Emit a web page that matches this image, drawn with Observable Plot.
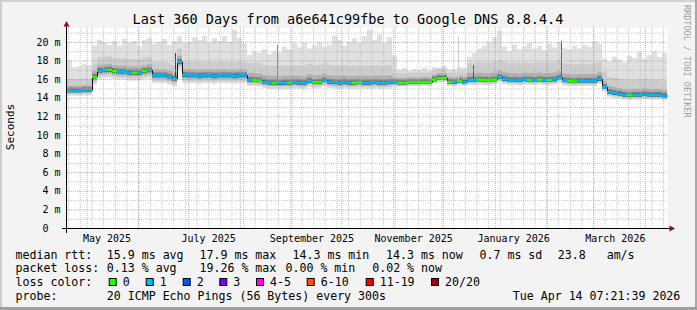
<!DOCTYPE html>
<html>
<head>
<meta charset="utf-8">
<script src="https://cdn.jsdelivr.net/npm/d3@7"></script>
<script src="https://cdn.jsdelivr.net/npm/@observablehq/plot@0.6"></script>
<style>
  html, body { margin: 0; padding: 0; background: #f3f3f3; }
  #chart { width: 697px; height: 310px; }
  svg { display: block; }
</style>
</head>
<body>
<div id="chart"></div>
<script>
// ---------------- data ----------------
const startTime = Date.UTC(2025, 3, 19, 7, 21, 39);
const endTime = Date.UTC(2026, 3, 14, 7, 21, 39);
const bucketDays = 3;

// median RTT per 3-day bucket (ms)
const median = [
  14.8,14.8,14.8,14.85,14.85,16.3,16.95,17.0,17.05,16.9,
  16.85,16.85,16.75,16.75,16.75,16.9,17.0,16.45,16.45,16.45,
  16.3,16.1,17.9,16.5,16.45,16.45,16.4,16.45,16.45,16.4,
  16.45,16.45,16.45,16.4,16.45,16.45,15.95,15.95,15.9,15.75,
  15.65,15.65,15.6,15.65,15.65,15.7,15.65,15.65,15.85,15.7,
  15.75,15.9,15.75,15.7,15.65,15.7,15.65,15.65,15.7,15.65,
  15.65,15.7,15.65,15.65,15.7,15.7,15.65,15.65,15.7,15.7,
  15.7,15.75,15.7,16.0,16.15,16.15,15.75,15.7,15.85,15.75,
  15.95,15.95,16.0,15.95,15.95,16.0,16.25,16.05,15.95,15.95,
  15.9,16.0,15.95,15.95,16.0,15.95,15.95,16.0,16.2,15.9,
  15.85,15.8,15.85,15.85,15.85,15.85,16.05,15.2,14.65,14.55,
  14.45,14.35,14.3,14.35,14.35,14.4,14.35,14.35,14.35,14.25
];
// lost pings per bucket (0 = green, 1 = light blue)
const loss = [
  1,1,1,1,1,0,1,1,0,0,
  1,1,1,0,1,0,1,1,1,1,
  1,1,1,1,1,1,1,1,1,1,
  1,1,1,1,1,1,1,0,0,1,
  1,0,1,1,0,1,1,1,1,0,
  0,1,1,1,1,1,1,0,0,1,
  1,1,1,1,1,1,0,0,0,0,
  0,0,0,0,0,0,0,1,0,1,
  1,1,0,0,0,0,1,1,1,1,
  1,1,0,1,0,1,0,1,1,1,
  0,0,1,1,1,1,1,1,1,1,
  1,1,0,1,1,1,1,1,1,1
];
// slowest ping per bucket (ms) - top of the smoke
const smokeMax = [
  18.0,17.3,17.4,17.6,17.5,
  19.6,20.2,20.0,19.7,20.1,19.6,20.3,
  19.9,20.1,19.5,20.2,20.4,19.8,20.0,
  20.3,19.7,20.1,20.6,19.9,20.0,20.5,
  20.2,20.7,19.9,20.4,20.1,20.6,20.0,21.3,20.4,19.8,
  18.6,19.0,18.8,19.2,18.7,19.0,18.9,
  19.5,19.2,19.8,19.4,19.9,19.3,19.6,20.0,19.5,19.7,20.7,20.2,19.6,20.0,
  20.4,19.9,20.6,21.3,20.2,20.8,19.9,20.5,18.5,
  17.0,17.2,16.9,17.1,17.0,17.2,16.9,17.3,
  17.2,17.4,17.0,17.1,17.3,17.2,
  18.4,18.8,19.3,19.6,20.0,20.5,21.2,
  19.5,19.0,19.7,19.2,19.5,19.9,19.3,19.6,19.1,19.8,19.4,
  20.0,19.4,19.2,19.6,19.3,19.7,19.5,20.1,19.8,
  18.2,17.9,18.4,18.1,17.8,18.5,18.3,18.9,18.2,18.6,19.0,18.4,18.8
];
// smoke spread around the median, per regime (first bucket of each regime)
const regimeStart = [0, 5, 36, 65, 80, 107];
const spreadBelow = [0.6, 0.9, 0.7, 0.5, 0.6, 0.55];
const spreadP75   = [0.5, 0.6, 0.7, 0.5, 0.7, 0.6];
const spreadP90   = [1.2, 1.4, 1.8, 1.0, 1.8, 1.6];
// isolated single-sample spikes
const spikeDay = [64.8, 126, 234.6, 243.6, 296.4];
const spikeTop = [18.8, 19.7, 20.6, 17.5, 20.1];
const spikeShade = ["#444444", "#8a8a8a", "#d0d0d0", "#555555", "#666666"];

const yTicks = [0, 2, 4, 6, 8, 10, 12, 14, 16, 18, 20];
const yMinor = [1, 3, 5, 7, 9, 11, 13, 15, 17, 19, 21];
const monthLabels = ["May 2025", "July 2025", "September 2025", "November 2025", "January 2026", "March 2026"];
const monthLabelDates = ["2025-05-13", "2025-07-13", "2025-09-13", "2025-11-13", "2026-01-12", "2026-03-14"];

const lossColors = ["#26ff00", "#00b8ff", "#0059ff", "#7e00ff", "#ff00ff", "#ff5500", "#ff0000", "#a10000"];
const lossNames = ["0", "1", "2", "3", "4-5", "6-10", "11-19", "20/20"];

// ---------------- build table ----------------
const DAY = 86400000;
function regimeOf(i) { let r = 0; for (let k = 0; k < regimeStart.length; k++) if (i >= regimeStart[k]) r = k; return r; }
const rows = median.map((m, i) => {
  const r = regimeOf(i);
  return {
    x: new Date(startTime + i * bucketDays * DAY),
    xEnd: new Date(Math.min(endTime, startTime + (i + 1) * bucketDays * DAY)),
    med: m, loss: loss[i], max: smokeMax[i],
    lo: m - spreadBelow[r], p75: m + spreadP75[r], p90: m + spreadP90[r], below: spreadBelow[r]
  };
});
const rowsExt = rows.concat([{...rows[rows.length - 1], x: new Date(endTime)}]);
const spikes = spikeDay.map((d, i) => ({x: new Date(startTime + d * DAY), top: spikeTop[i], shade: spikeShade[i]}));
spikes.forEach(s => {
  const i = Math.min(rows.length - 1, Math.floor((s.x - startTime) / (bucketDays * DAY)));
  s.base = rows[i].med;
});

const weeks = d3.utcSunday.range(new Date(startTime), new Date(endTime));
const months = d3.utcMonth.range(new Date(startTime), new Date(endTime));
const labelRows = monthLabels.map((t, i) => ({x: new Date(monthLabelDates[i] + "T00:00:00Z"), t}));

const FONT = "DejaVu Sans Mono, monospace";

const chart = Plot.plot({
  width: 697, height: 310,
  marginLeft: 67, marginRight: 30, marginTop: 27, marginBottom: 82,
  style: {background: "#f3f3f3", fontFamily: FONT, fontSize: "10px", color: "#000", overflow: "visible"},
  x: {type: "utc", domain: [new Date(startTime), new Date(endTime)], axis: null},
  y: {domain: [0, 21.6], axis: null},
  marks: [
    Plot.frame({fill: "#ffffff", stroke: null}),
    // smoke
    Plot.areaY(rowsExt, {x: "x", y1: "lo", y2: "max", curve: "step-after", fill: "#e0e0e0"}),
    Plot.areaY(rowsExt, {x: "x", y1: d => d.med - d.below * 0.75, y2: "p90", curve: "step-after", fill: "#cdcdcd"}),
    Plot.areaY(rowsExt, {x: "x", y1: d => d.med - d.below * 0.5, y2: "p75", curve: "step-after", fill: "#b0b0b0"}),
    Plot.areaY(rowsExt, {x: "x", y1: d => d.med - d.below * 0.3, y2: d => d.med + 0.3, curve: "step-after", fill: "#858585"}),
    Plot.areaY(rowsExt, {x: "x", y1: d => d.med - 0.22, y2: d => d.med + 0.1, curve: "step-after", fill: "#3a3a3a"}),
    Plot.ruleX(spikes, {x: "x", y1: "base", y2: "top", stroke: "shade", strokeWidth: 1}),
    // grid
    Plot.ruleX(weeks, {x: d => d, stroke: "#b8b8b8", strokeOpacity: 0.8, strokeDasharray: "1,1"}),
    Plot.ruleY(yMinor, {y: d => d, stroke: "#b8b8b8", strokeOpacity: 0.8, strokeDasharray: "1,1"}),
    Plot.ruleX(months, {x: d => d, stroke: "#f07070", strokeOpacity: 0.7, strokeDasharray: "1,1"}),
    Plot.ruleY(yTicks.filter(d => d > 0), {y: d => d, stroke: "#f07070", strokeOpacity: 0.7, strokeDasharray: "1,1"}),
    // median
    Plot.line(rowsExt, {x: "x", y: "med", curve: "step-after", stroke: "#111111", strokeWidth: 1}),
    Plot.ruleY(rows, {x1: "x", x2: "xEnd", y: "med", stroke: d => lossColors[d.loss], strokeWidth: 2.6}),
    // axis labels
    Plot.text(yTicks.filter(d => d > 0), {x: new Date(startTime), y: d => d, text: d => d + " m", textAnchor: "end", dx: -7, fill: "#000", fontSize: 10}),
    Plot.text([0], {x: new Date(startTime), y: d => d, text: () => "0", textAnchor: "end", dx: -19, fill: "#000", fontSize: 10}),
    Plot.text(labelRows, {x: "x", y: 0, text: "t", dy: 10, fill: "#000", fontSize: 10})
  ]
});

document.getElementById("chart").appendChild(chart);

// ---------------- decorations (rrdtool look) ----------------
const svg = d3.select(chart);
// frame shading
svg.append("rect").attr("x", 0).attr("y", 0).attr("width", 697).attr("height", 2).attr("fill", "#d2d2d2");
svg.append("rect").attr("x", 0).attr("y", 0).attr("width", 2).attr("height", 310).attr("fill", "#cdcdcd");
svg.append("rect").attr("x", 695).attr("y", 0).attr("width", 2).attr("height", 310).attr("fill", "#a8a8a8");
svg.append("rect").attr("x", 0).attr("y", 307).attr("width", 697).attr("height", 3).attr("fill", "#9e9e9e");
// axes with arrows
svg.append("line").attr("x1", 62).attr("x2", 670).attr("y1", 228.5).attr("y2", 228.5).attr("stroke", "#000");
svg.append("line").attr("x1", 66.5).attr("x2", 66.5).attr("y1", 233).attr("y2", 25).attr("stroke", "#000");
svg.append("path").attr("d", "M66.5,21 L63.5,26.5 L69.5,26.5 Z").attr("fill", "#8b1010");
svg.append("path").attr("d", "M675,228.5 L669.5,225.5 L669.5,231.5 Z").attr("fill", "#8b1010");

function txt(x, y, s, opts = {}) {
  const t = svg.append("text").attr("x", x).attr("y", y)
    .attr("font-family", FONT).attr("font-size", opts.size || 11.6)
    .attr("fill", opts.fill || "#000").attr("xml:space", "preserve")
    .attr("text-anchor", opts.anchor || "start")
    .style("white-space", "pre").text(s);
  if (opts.transform) t.attr("transform", opts.transform);
  if (opts.baseline) t.attr("dominant-baseline", opts.baseline);
  return t;
}
// title
txt(348, 23.5, "Last 360 Days from a6e641c99fbe to Google DNS 8.8.4.4", {size: 13.5, anchor: "middle"});
// y axis title
txt(0, 0, "Seconds", {size: 11, anchor: "middle", baseline: "central", transform: "translate(10,127) rotate(-90)"});
// watermark
txt(0, 0, "RRDTOOL / TOBI OETIKER", {size: 8.5, fill: "#a0a0a0", baseline: "central", transform: "translate(687,5) rotate(90)"});

// legend
const L1 = 258.7, L2 = 272.3, L3 = 286.2, L4 = 300.2;
txt(15.5, L1, "median rtt:");
txt(106.8, L1, "15.9 ms avg");
txt(199.5, L1, "17.9 ms max");
txt(292.5, L1, "14.3 ms min");
txt(386, L1, "14.3 ms now");
txt(479.5, L1, "0.7 ms sd");
txt(557.8, L1, "23.8   am/s");

txt(15.5, L2, "packet loss:");
txt(106.8, L2, "0.13 % avg");
txt(199.5, L2, "19.26 % max");
txt(285.5, L2, "0.00 % min");
txt(372.2, L2, "0.02 % now");

txt(15.5, L3, "loss color:");
const swX = [108.7, 145.7, 182.7, 219.3, 256, 306.7, 365.7, 431];
lossNames.forEach((n, i) => {
  svg.append("rect").attr("x", swX[i] + 0.5).attr("y", 278.5).attr("width", 7).attr("height", 7)
    .attr("fill", lossColors[i]).attr("stroke", "#000").attr("stroke-width", 1);
  txt(swX[i] + 14, L3, n);
});

txt(15.5, L4, "probe:");
txt(106.8, L4, "20 ICMP Echo Pings (56 Bytes) every 300s");
txt(512.8, L4, "Tue Apr 14 07:21:39 2026");
</script>
</body>
</html>
